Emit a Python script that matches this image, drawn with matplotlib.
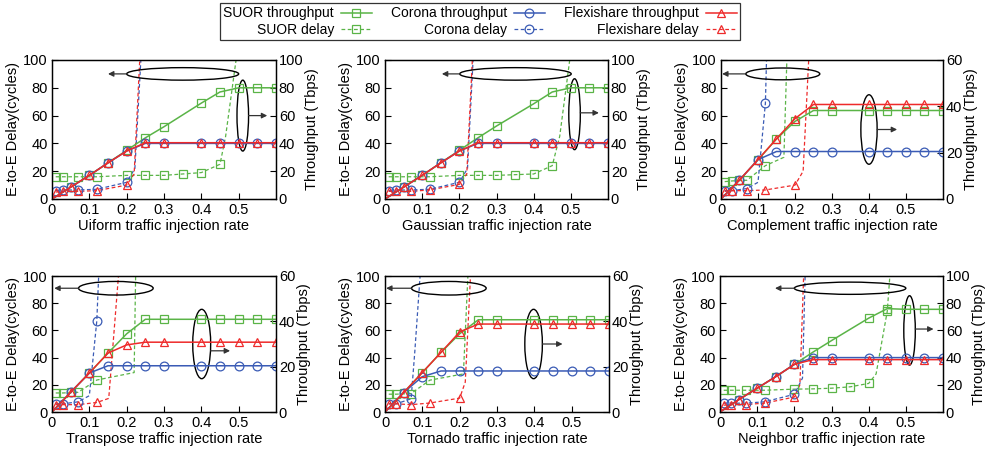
import numpy as np
import matplotlib
matplotlib.use("Agg")
import matplotlib.pyplot as plt
from matplotlib.lines import Line2D
from matplotlib.patches import Ellipse

plt.rcParams['font.family'] = ['Liberation Sans', 'DejaVu Sans']
plt.rcParams['font.size'] = 10

# ---- data -------------------------------------------------------------
# throughput is sampled at the same rates in every panel (right axis, Tbps)
thr_x = [0, 0.05, 0.1, 0.15, 0.2, 0.25, 0.3, 0.4, 0.45, 0.5, 0.55, 0.6]

# delay (left axis, cycles); each series uses the first len() rates of *_dx
# knee / sat: where each delay curve (SUOR, Corona, Flexishare) bends up
# and where it leaves the top of the chart

# Uniform
uni_dx = [0.01, 0.03, 0.07, 0.12, 0.2, 0.25, 0.3, 0.35, 0.4, 0.45]
uni_suor_d = [16, 16, 16, 16, 17, 17, 17, 18, 19, 25]
uni_corona_d = [6, 6.5, 6.5, 7, 12]
uni_flexi_d = [5, 5.5, 5.5, 6, 10]
uni_knee_x = [0.465, 0.222, 0.22]
uni_knee_y = [45, 22, 18]
uni_sat_x = [0.493, 0.238, 0.235]
uni_suor_t = [0, 8.5, 17, 26, 35, 44, 52, 69, 77, 80, 80, 80]
uni_corona_t = [0, 8.5, 17, 26, 34.5, 40, 40, 40, 40, 40, 40, 40]
uni_flexi_t = [0, 8.5, 17, 26, 34.5, 40.5, 40.5, 40.5, 40.5, 40.5, 40.5, 40.5]

# Gaussian
gau_dx = [0.01, 0.03, 0.07, 0.12, 0.2, 0.25, 0.3, 0.35, 0.4, 0.45]
gau_suor_d = [16, 16, 16, 16, 17, 17, 17, 17.5, 18, 24]
gau_corona_d = [6, 6.5, 6.5, 7, 12]
gau_flexi_d = [5.5, 5.5, 5.5, 6.5, 10.5]
gau_knee_x = [0.47, 0.222, 0.22]
gau_knee_y = [45, 22, 18]
gau_sat_x = [0.497, 0.237, 0.235]
gau_suor_t = [0, 8.5, 17, 26, 35, 44, 52.5, 68.5, 77, 80, 80, 80]
gau_corona_t = [0, 8.5, 17, 26, 34.5, 40, 40, 40, 40, 40, 40, 40]
gau_flexi_t = [0, 8.5, 17, 26, 34.5, 40.5, 40.5, 40.5, 40.5, 40.5, 40.5, 40.5]

# Complement
com_dx = [0.01, 0.03, 0.07, 0.12, 0.2]
com_suor_d = [12.5, 13, 13.5, 24]
com_corona_d = [6, 6, 7.5, 69]
com_flexi_d = [5.5, 6, 6, 6.5, 10]
com_knee_x = [0.17, 0.1, 0.222]
com_knee_y = [30, 12, 20]
com_sat_x = [0.178, 0.123, 0.237]
com_suor_t = [0, 8.2, 16.9, 25.9, 33.5, 38.2, 38.2, 38.2, 38.2, 38.2, 38.2, 38.2]
com_corona_t = [0, 8.2, 17, 20.5, 20.5, 20.5, 20.5, 20.5, 20.5, 20.5, 20.5, 20.5]
com_flexi_t = [0, 8.2, 17, 26, 34.7, 40.8, 40.8, 40.8, 40.8, 40.8, 40.8, 40.8]

# Transpose
tra_dx = [0.01, 0.03, 0.07, 0.12]
tra_suor_d = [14, 14, 14.5, 23.5]
tra_corona_d = [6, 6, 7.5, 67]
tra_flexi_d = [5.4, 5.4, 5.4, 7]
tra_knee_x = [0.22, 0.1, 0.152]
tra_knee_y = [29, 12, 10]
tra_sat_x = [0.224, 0.125, 0.178]
tra_suor_t = [0, 8.7, 17.2, 26, 34.5, 40.9, 40.9, 40.9, 40.9, 40.9, 40.9, 40.9]
tra_corona_t = [0, 8.7, 17.2, 20.4, 20.4, 20.4, 20.4, 20.4, 20.4, 20.4, 20.4, 20.4]
tra_flexi_t = [0, 8.7, 17.2, 26, 29.6, 30.8, 30.8, 30.8, 30.8, 30.8, 30.8, 30.8]

# Tornado
tor_dx = [0.01, 0.03, 0.07, 0.12, 0.2]
tor_suor_d = [13.1, 13.1, 13.6, 23.4]
tor_corona_d = [6, 6, 9.7]
tor_flexi_d = [6, 6, 5.4, 6.6, 10.2]
tor_knee_x = [0.21, 0.08, 0.215]
tor_knee_y = [28, 45, 22]
tor_sat_x = [0.222, 0.094, 0.229]
tor_suor_t = [0, 8.6, 17.4, 26.3, 34.5, 40.7, 40.7, 40.7, 40.7, 40.7, 40.7, 40.7]
tor_corona_t = [0, 8.6, 15.6, 18.1, 18.1, 18.1, 18.1, 18.1, 18.1, 18.1, 18.1, 18.1]
tor_flexi_t = [0, 8.6, 17.4, 26.3, 35.3, 38.8, 38.8, 38.8, 38.8, 38.8, 38.8, 38.8]

# Neighbor
nei_dx = [0.01, 0.03, 0.07, 0.12, 0.2, 0.25, 0.3, 0.35, 0.4, 0.45]
nei_suor_d = [16, 16, 16, 16, 16.8, 17, 17.5, 18.5, 21, 74]
nei_corona_d = [6.5, 6.5, 6.5, 7.5, 13]
nei_flexi_d = [5, 5.5, 5.5, 6.5, 11]
nei_knee_x = [0.42, 0.222, 0.215]
nei_knee_y = [28, 25, 20]
nei_sat_x = [0.457, 0.229, 0.225]
nei_suor_t = [0, 9, 17.5, 26, 35, 44, 52.5, 69, 76, 75.5, 75.5, 75.5]
nei_corona_t = [0, 9, 17.5, 26, 35, 40, 40, 40, 40, 40, 40, 40]
nei_flexi_t = [0, 9, 17.5, 26, 35, 38.5, 38.5, 38.5, 38.5, 38.5, 38.5, 38.5]

panel_names = ["Uiform", "Gaussian", "Complement", "Transpose", "Tornado", "Neighbor"]
thr_max = [100, 100, 60, 60, 60, 100]

# ---- style / layout ---------------------------------------------------
GREEN, BLUE, RED = '#5ab447', '#3a5bb5', '#ee2a2a'
colors = [GREEN, BLUE, RED]
markers = ['s', 'o', '^']
names = ['SUOR', 'Corona', 'Flexishare']
DASH = (3, 2)

W, H = 988, 454
# axes boxes in pixels: left, top, right, bottom
boxes = [(52, 60, 276, 199), (385, 60, 608, 199), (721, 60, 943, 199),
         (52, 276, 276, 412), (385, 276, 609, 412), (720, 276, 943, 412)]
# ellipse annotations: (cx, cy, w, h) in data units of the left axis, arrow length
h_ell = [(0.35, 90, 0.30, 9, 0.05), (0.351, 90, 0.30, 9, 0.048),
         (0.167, 90, 0.20, 8.5, 0.064), (0.171, 91, 0.20, 10, 0.065),
         (0.171, 91, 0.20, 10, 0.068), (0.35, 91, 0.30, 9, 0.052)]
v_ell = [(0.511, 60, 0.031, 51, 0.05), (0.51, 61, 0.031, 51, 0.05),
         (0.40, 50, 0.044, 50, 0.054), (0.401, 50, 0.048, 51, 0.052),
         (0.398, 50, 0.047, 51, 0.054), (0.51, 60, 0.031, 51, 0.049)]
v_arrow_y = [60, 62, 50, 45, 50, 61]

panels = [
    (uni_dx, [uni_suor_d, uni_corona_d, uni_flexi_d], uni_knee_x, uni_knee_y, uni_sat_x,
     [uni_suor_t, uni_corona_t, uni_flexi_t]),
    (gau_dx, [gau_suor_d, gau_corona_d, gau_flexi_d], gau_knee_x, gau_knee_y, gau_sat_x,
     [gau_suor_t, gau_corona_t, gau_flexi_t]),
    (com_dx, [com_suor_d, com_corona_d, com_flexi_d], com_knee_x, com_knee_y, com_sat_x,
     [com_suor_t, com_corona_t, com_flexi_t]),
    (tra_dx, [tra_suor_d, tra_corona_d, tra_flexi_d], tra_knee_x, tra_knee_y, tra_sat_x,
     [tra_suor_t, tra_corona_t, tra_flexi_t]),
    (tor_dx, [tor_suor_d, tor_corona_d, tor_flexi_d], tor_knee_x, tor_knee_y, tor_sat_x,
     [tor_suor_t, tor_corona_t, tor_flexi_t]),
    (nei_dx, [nei_suor_d, nei_corona_d, nei_flexi_d], nei_knee_x, nei_knee_y, nei_sat_x,
     [nei_suor_t, nei_corona_t, nei_flexi_t]),
]

fig = plt.figure(figsize=(W / 100, H / 100), dpi=100)

for p, (dx, delays, knee_x, knee_y, sat_x, thrs) in enumerate(panels):
    l, t, r, b = boxes[p]
    ax = fig.add_axes([l / W, 1 - b / H, (r - l) / W, (b - t) / H])
    ax2 = ax.twinx()

    for i in range(3):
        # delay: dashed curve through the measured points, knee and exit point
        d = delays[i]
        mx = dx[:len(d)]
        lx = list(mx) + [knee_x[i], sat_x[i]]
        ly = list(d) + [knee_y[i], 100]
        order = np.argsort(lx)
        ax.plot(np.array(lx)[order], np.array(ly)[order], ls='--', dashes=DASH,
                color=colors[i], lw=0.9, zorder=2)
        ax.plot(mx, d, ls='none', marker=markers[i], ms=6.3, mfc='none',
                mec=colors[i], mew=0.9, zorder=3)
        # throughput: solid
        ax2.plot(thr_x, thrs[i], ls='-', color=colors[i], lw=1.1, marker=markers[i],
                 ms=6.3, mfc='none', mec=colors[i], mew=0.9, markevery=slice(1, None))

    ax.set_xlim(0, 0.6)
    ax.set_ylim(0, 100)
    ax2.set_ylim(0, thr_max[p])
    ax.set_xticks([0, 0.1, 0.2, 0.3, 0.4, 0.5])
    ax.set_xticklabels(['0', '0.1', '0.2', '0.3', '0.4', '0.5'])
    ax.set_yticks(range(0, 101, 20))
    ax2.set_yticks(range(0, thr_max[p] + 1, 20))
    ax.tick_params(direction='in', length=4, width=0.8, pad=3, labelsize=10.5)
    ax2.tick_params(direction='in', length=4, width=0.8, pad=2, labelsize=10.5)
    for a in (ax, ax2):
        for s in a.spines.values():
            s.set_linewidth(0.9)
    ax.set_xlabel(panel_names[p] + ' traffic injection rate', fontsize=10.5, labelpad=1)
    ax.set_ylabel('E-to-E Delay(cycles)', fontsize=10.5, labelpad=2)
    ax2.set_ylabel('Throughput (Tbps)', fontsize=10.5, labelpad=1)

    # "delay" ellipse with arrow to the left axis
    cx, cy, ew, eh, al = h_ell[p]
    ax2.add_patch(Ellipse((cx, cy * thr_max[p] / 100), ew, eh * thr_max[p] / 100,
                          fill=False, ec='k', lw=1.0))
    ax2.annotate('', xy=(cx - ew / 2 - al, cy * thr_max[p] / 100),
                 xytext=(cx - ew / 2, cy * thr_max[p] / 100),
                 arrowprops=dict(arrowstyle='-|>', color='#333333', lw=0.9,
                                 mutation_scale=8, shrinkA=0, shrinkB=0))
    # "throughput" ellipse with arrow to the right axis
    cx, cy, ew, eh, al = v_ell[p]
    ay = v_arrow_y[p] * thr_max[p] / 100
    ax2.add_patch(Ellipse((cx, cy * thr_max[p] / 100), ew, eh * thr_max[p] / 100,
                          fill=False, ec='k', lw=1.0))
    ax2.annotate('', xy=(cx + ew / 2 + al, ay), xytext=(cx + ew / 2, ay),
                 arrowprops=dict(arrowstyle='-|>', color='#333333', lw=0.9,
                                 mutation_scale=8, shrinkA=0, shrinkB=0))

# legend: label first, then sample, like gnuplot
handles, labels = [], []
for i in range(3):
    handles.append(Line2D([], [], ls='-', color=colors[i], lw=1.1, marker=markers[i],
                          ms=6.3, mfc='none', mec=colors[i], mew=0.9))
    labels.append(names[i] + ' throughput')
    handles.append(Line2D([], [], ls='--', dashes=DASH, color=colors[i], lw=0.9,
                          marker=markers[i], ms=6.3, mfc='none', mec=colors[i], mew=0.9))
    labels.append(names[i] + ' delay')
leg = fig.legend(handles, labels, ncol=3, loc='upper center', bbox_to_anchor=(480 / W, 1 - 3 / H),
                 markerfirst=False, frameon=True, fancybox=False, fontsize=10,
                 handlelength=2.2, handletextpad=0.5, columnspacing=1.4,
                 labelspacing=0.15, borderpad=0.25, borderaxespad=0)
leg.get_frame().set_edgecolor('k')
leg.get_frame().set_linewidth(0.9)

fig.savefig('out.png', dpi=100)
